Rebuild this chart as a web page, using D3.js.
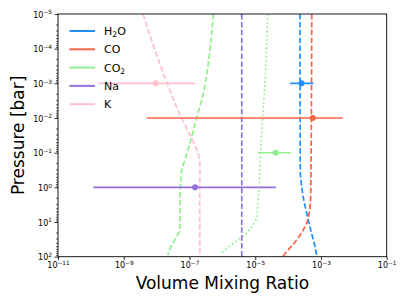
<!DOCTYPE html>
<html>
<head>
<meta charset="utf-8">
<script src="https://cdn.jsdelivr.net/npm/d3@7"></script>
<style>
  body { margin: 0; background: #fff; }
  svg { display: block; font-family: 'DejaVu Sans', sans-serif; }
</style>
</head>
<body>
<div id="chart"></div>
<script>
// Species names (legend order) and colours
const species = ['H2O', 'CO', 'CO2', 'Na', 'K'];
const colors = ['#1f8fff', '#ff6347', '#90ee90', '#9370db', '#ffc0cb'];

// Model profiles: pressure [bar] and volume mixing ratio
const h2oP = [1e-5, 0.3, 1.45, 8.7, 72, 100];
const h2oVmr = [2.3e-4, 2.35e-4, 2.75e-4, 4.1e-4, 7.1e-4, 7.6e-4];

const coP = [1e-5, 1.45, 5.5, 8.7, 17, 33, 68, 100];
const coVmr = [5.25e-4, 4.9e-4, 4.37e-4, 3.98e-4, 2.88e-4, 1.82e-4, 9.5e-5, 6.8e-5];

const co2P = [1e-5, 1.1e-4, 3.0e-3, 9.3e-3, 3.5e-2, 0.16, 0.32, 0.74, 2.3, 17, 26, 65, 89];
const co2Vmr = [5.3e-7, 4.2e-7, 2.36e-7, 1.66e-7, 1.17e-7, 7.3e-8, 5.8e-8, 5.4e-8, 5.15e-8, 5.1e-8, 4.1e-8, 2.43e-8, 2.2e-8];

// second CO2 profile (dotted)
const co2bP = [1e-5, 8e-4, 5.2e-2, 2.3, 7.0, 20.7, 64, 89];
const co2bVmr = [2.4e-5, 2.0e-5, 1.5e-5, 1.23e-5, 1.11e-5, 5.5e-6, 1.2e-6, 9.1e-7];

const naP = [1e-5, 100];
const naVmr = [3.9e-6, 3.9e-6];

const kP = [1e-5, 1.1e-4, 9.8e-4, 9.3e-3, 3.5e-2, 0.133, 0.32, 2.3, 100];
const kVmr = [3.85e-9, 8.9e-9, 2.07e-8, 5.5e-8, 1.11e-7, 1.95e-7, 2.09e-7, 2.04e-7, 2.09e-7];

// Retrieved values with error bars (same order as species)
const retP = [1e-3, 1e-2, 1e-1, 1, 1e-3];
const retVmr = [2.57e-4, 5.6e-4, 4.2e-5, 1.48e-7, 9.3e-9];
const retLow = [1.15e-4, 5.0e-9, 1.19e-5, 1.18e-10, 1.65e-10];
const retHigh = [5.9e-4, 4.6e-3, 1.23e-4, 4.3e-5, 1.48e-7];

// Tick values
const xTicks = [1e-11, 1e-9, 1e-7, 1e-5, 1e-3, 1e-1];
const yTicks = [1e-5, 1e-4, 1e-3, 1e-2, 1e-1, 1e0, 1e1, 1e2];

class ProfilePlot {

  constructor(_config) {
    this.config = {
      parentElement: _config.parentElement,
      containerWidth: 407,
      containerHeight: 305,
      margin: { top: 14, right: 20.3, bottom: 48.3, left: 58 }
    };
    this.initVis();
  }

  initVis() {
    let vis = this;
    vis.width = vis.config.containerWidth - vis.config.margin.left - vis.config.margin.right;
    vis.height = vis.config.containerHeight - vis.config.margin.top - vis.config.margin.bottom;

    vis.xScale = d3.scaleLog().domain([1e-11, 1e-1]).range([0, vis.width]);
    vis.yScale = d3.scaleLog().domain([1e-5, 1e2]).range([0, vis.height]);

    vis.svg = d3.select(vis.config.parentElement).append('svg')
      .attr('width', vis.config.containerWidth)
      .attr('height', vis.config.containerHeight);

    vis.svg.append('rect')
      .attr('width', vis.config.containerWidth)
      .attr('height', vis.config.containerHeight)
      .attr('fill', '#fff');

    vis.chartArea = vis.svg.append('g')
      .attr('transform', `translate(${vis.config.margin.left},${vis.config.margin.top})`);

    vis.chartArea.append('defs').append('clipPath')
      .attr('id', 'plot-clip')
      .append('rect')
      .attr('width', vis.width)
      .attr('height', vis.height);

    vis.chart = vis.chartArea.append('g').attr('clip-path', 'url(#plot-clip)');

    // smooth profiles, ordered by pressure
    vis.line = d3.line()
      .x(d => vis.xScale(d[1]))
      .y(d => vis.yScale(d[0]))
      .curve(d3.curveMonotoneY);

    vis.renderVis();
  }

  renderVis() {
    let vis = this;

    // model profiles
    const profiles = [
      { p: h2oP, v: h2oVmr, c: colors[0], dash: '5.5,2.4' },
      { p: coP, v: coVmr, c: colors[1], dash: '5.5,2.4' },
      { p: co2P, v: co2Vmr, c: colors[2], dash: '5.5,2.4' },
      { p: co2bP, v: co2bVmr, c: colors[2], dash: '1.6,2.6' },
      { p: naP, v: naVmr, c: colors[3], dash: '5.5,2.4' },
      { p: kP, v: kVmr, c: colors[4], dash: '5.5,2.4' }
    ];

    vis.chart.selectAll('.profile')
      .data(profiles)
      .join('path')
      .attr('class', 'profile')
      .attr('d', d => vis.line(d3.zip(d.p, d.v)))
      .attr('fill', 'none')
      .attr('stroke', d => d.c)
      .attr('stroke-width', 1.7)
      .attr('stroke-dasharray', d => d.dash);

    // retrieved points with horizontal error bars
    const ret = species.map((s, i) => ({
      p: retP[i], v: retVmr[i], lo: retLow[i], hi: retHigh[i], c: colors[i]
    }));

    vis.chart.selectAll('.err')
      .data(ret)
      .join('line')
      .attr('class', 'err')
      .attr('x1', d => vis.xScale(d.lo))
      .attr('x2', d => vis.xScale(d.hi))
      .attr('y1', d => vis.yScale(d.p))
      .attr('y2', d => vis.yScale(d.p))
      .attr('stroke', d => d.c)
      .attr('stroke-width', 1.6);

    vis.chart.selectAll('.pt')
      .data(ret)
      .join('circle')
      .attr('class', 'pt')
      .attr('cx', d => vis.xScale(d.v))
      .attr('cy', d => vis.yScale(d.p))
      .attr('r', 3)
      .attr('fill', d => d.c);

    // axes
    const sup = (sel) => {
      sel.selectAll('text').each(function (d) {
        const e = Math.round(Math.log10(d));
        const t = d3.select(this).text('');
        t.append('tspan').text('10');
        t.append('tspan').attr('dy', -3.5).attr('font-size', 5.8).text(e < 0 ? '\u2212' + (-e) : e);
      });
    };

    const xAxis = d3.axisBottom(vis.xScale)
      .tickValues(xTicks)
      .tickFormat(d => d)
      .tickSize(3.5)
      .tickPadding(2.5);

    const xAxisG = vis.chartArea.append('g')
      .attr('transform', `translate(0,${vis.height})`)
      .call(xAxis);
    xAxisG.select('.domain').remove();
    xAxisG.selectAll('text').attr('font-size', 8).attr('fill', '#000').attr('font-family', 'DejaVu Sans');
    xAxisG.selectAll('line').attr('stroke', '#000').attr('stroke-width', 0.8);
    sup(xAxisG);

    const yMinor = [];
    for (let e = -5; e < 2; e++) {
      for (let m = 2; m <= 9; m++) yMinor.push(m * Math.pow(10, e));
    }
    const yMinorG = vis.chartArea.append('g')
      .call(d3.axisLeft(vis.yScale).tickValues(yMinor).tickFormat('').tickSize(2));
    yMinorG.select('.domain').remove();
    yMinorG.selectAll('line').attr('stroke', '#000').attr('stroke-width', 0.6);

    const yAxisG = vis.chartArea.append('g')
      .call(d3.axisLeft(vis.yScale).tickValues(yTicks).tickFormat(d => d).tickSize(3.5).tickPadding(2.5));
    yAxisG.select('.domain').remove();
    yAxisG.selectAll('text').attr('font-size', 8).attr('fill', '#000').attr('font-family', 'DejaVu Sans').attr('dy', '0.4em');
    yAxisG.selectAll('line').attr('stroke', '#000').attr('stroke-width', 0.8);
    sup(yAxisG);

    // frame
    vis.chartArea.append('rect')
      .attr('width', vis.width)
      .attr('height', vis.height)
      .attr('fill', 'none')
      .attr('stroke', '#000')
      .attr('stroke-width', 0.9);

    // axis titles
    vis.svg.append('text')
      .attr('x', vis.config.margin.left + vis.width / 2)
      .attr('y', 289)
      .attr('text-anchor', 'middle')
      .attr('font-size', 17)
      .text('Volume Mixing Ratio');

    vis.svg.append('text')
      .attr('transform', `translate(24,${vis.config.margin.top + vis.height / 2}) rotate(-90)`)
      .attr('text-anchor', 'middle')
      .attr('font-size', 17)
      .text('Pressure [bar]');

    // legend
    const legend = vis.svg.append('g').attr('transform', 'translate(69.5,31)');
    const row = legend.selectAll('.leg')
      .data(species)
      .join('g')
      .attr('class', 'leg')
      .attr('transform', (d, i) => `translate(0,${i * 18.3})`);
    row.append('line')
      .attr('x1', 0).attr('x2', 25.5)
      .attr('stroke', (d, i) => colors[i])
      .attr('stroke-width', 2);
    row.append('text')
      .attr('x', 34.5)
      .attr('dy', '0.36em')
      .attr('font-size', 11)
      .each(function (d) {
        const t = d3.select(this);
        const m = d.match(/^([A-Za-z]+)(\d)?([A-Za-z]*)$/);
        t.append('tspan').text(m[1]);
        if (m[2]) {
          t.append('tspan').attr('dy', 2.5).attr('font-size', 7.7).text(m[2]);
          if (m[3]) t.append('tspan').attr('dy', -2.5).text(m[3]);
        }
      });
  }
}

new ProfilePlot({ parentElement: '#chart' });
</script>
</body>
</html>
